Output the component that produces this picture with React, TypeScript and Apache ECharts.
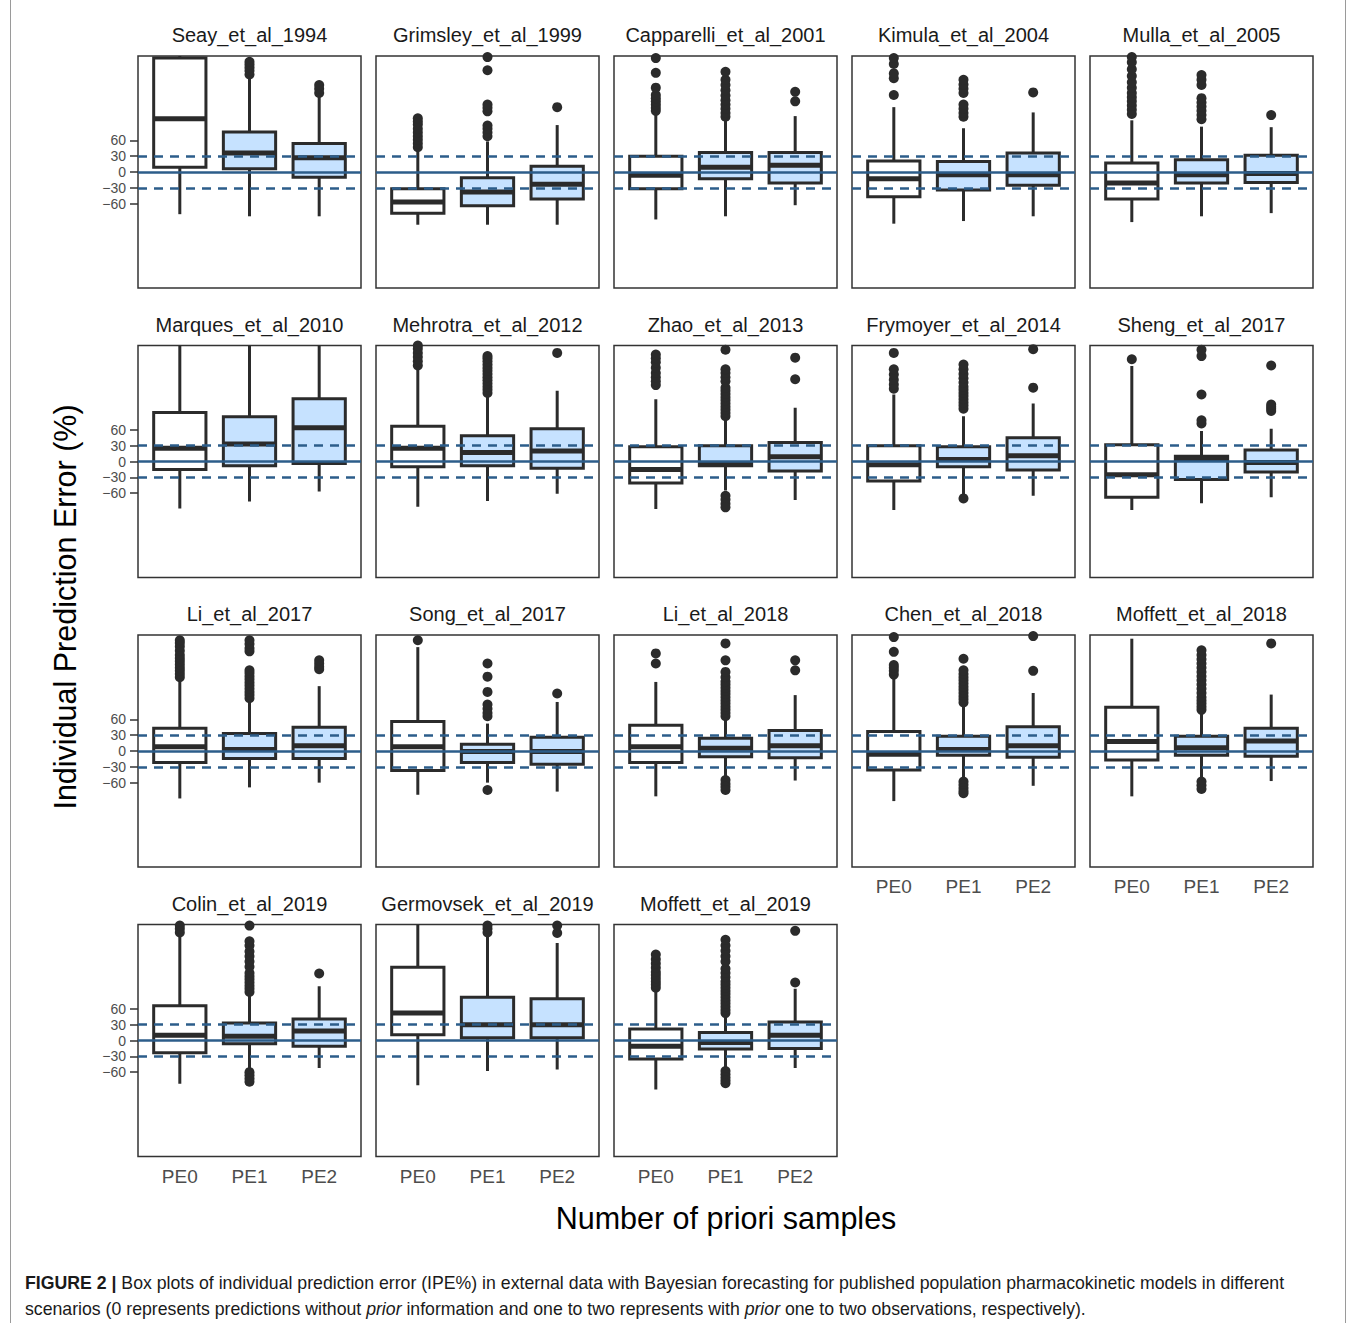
import { useEffect, useRef } from 'react';
import * as echarts from 'echarts';

const FONT = '"Liberation Sans", Arial, Helvetica, sans-serif';

const CATEGORIES = ['PE0', 'PE1', 'PE2'];
const CATEGORY_POS = [1, 2, 3];
// y tick labels are split over two stacked axes so none of them is auto-hidden
const Y_TICKS_A = [-60, 0, 60];
const Y_TICKS_B = [-30, 30];
const Y_MIN = -220;
const Y_MAX = 220;
const DASHED_LINES = [-30, 30];
const SOLID_LINES = [0];
const BOX_FILLS = ['#ffffff', '#c6e2ff', '#c6e2ff'];

const PANEL_NAMES = [
  'Seay_et_al_1994', 'Grimsley_et_al_1999', 'Capparelli_et_al_2001', 'Kimula_et_al_2004', 'Mulla_et_al_2005',
  'Marques_et_al_2010', 'Mehrotra_et_al_2012', 'Zhao_et_al_2013', 'Frymoyer_et_al_2014', 'Sheng_et_al_2017',
  'Li_et_al_2017', 'Song_et_al_2017', 'Li_et_al_2018', 'Chen_et_al_2018', 'Moffett_et_al_2018',
  'Colin_et_al_2019', 'Germovsek_et_al_2019', 'Moffett_et_al_2019',
];
// panels that carry the PE0/PE1/PE2 labels (bottom of each column)
const X_LABEL_PANELS = [13, 14, 15, 16, 17];

// box stats per scenario: [lower whisker, Q1, median, Q3, upper whisker]
const SEAY_1994_BOX = [[-80, 9, 101, 216, 240], [-84, 6, 36, 76, 181], [-84, -10, 27, 54, 146]];
const SEAY_1994_OUT = [[], [185, 192, 198, 204, 209], [150, 158, 165]];

const GRIMSLEY_1999_BOX = [[-100, -78, -57, -32, 39], [-100, -64, -38, -11, 58], [-100, -51, -23, 11, 89]];
const GRIMSLEY_1999_OUT = [[47, 54, 61, 68, 75, 82, 90, 96, 102], [68, 75, 82, 88, 115, 122, 128, 193, 218], [123]];

const CAPPARELLI_2001_BOX = [[-90, -32, -6, 30, 110], [-84, -13, 9, 37, 99], [-63, -21, 13, 37, 106]];
const CAPPARELLI_2001_OUT = [[116, 122, 128, 134, 140, 146, 160, 188, 216], [105, 112, 120, 128, 136, 145, 155, 165, 175, 190], [134, 152]];

const KIMULA_2004_BOX = [[-98, -47, -13, 21, 123], [-93, -34, -5, 20, 83], [-84, -25, -5, 36, 113]];
const KIMULA_2004_OUT = [[146, 178, 187, 205, 216], [105, 112, 120, 128, 150, 158, 166, 175], [151]];

const MULLA_2005_BOX = [[-95, -51, -21, 17, 98], [-84, -21, -5, 23, 86], [-78, -20, -3, 32, 85]];
const MULLA_2005_OUT = [[110, 118, 126, 134, 142, 150, 160, 170, 182, 195, 208, 218], [100, 108, 116, 124, 132, 140, 165, 175, 184], [108]];

const MARQUES_2010_BOX = [[-89, -15, 25, 93, 240], [-76, -8, 33, 85, 240], [-57, -4, 64, 119, 240]];
const MARQUES_2010_OUT = [[], [], []];

const MEHROTRA_2012_BOX = [[-86, -10, 25, 67, 178], [-75, -8, 17, 49, 124], [-61, -13, 20, 62, 134]];
const MEHROTRA_2012_OUT = [[182, 190, 198, 206, 214, 220], [130, 136, 142, 148, 154, 160, 166, 172, 178, 184, 190, 196, 200], [206]];

const ZHAO_2013_BOX = [[-90, -41, -15, 28, 118], [-55, -8, -4, 30, 80], [-73, -18, 9, 36, 102]];
const ZHAO_2013_OUT = [[145, 152, 160, 168, 178, 188, 196, 203], [-65, -72, -80, -87, 86, 92, 98, 104, 110, 116, 122, 128, 134, 140, 152, 160, 168, 175, 212], [156, 197]];

const FRYMOYER_2014_BOX = [[-92, -37, -6, 30, 127], [-62, -10, 4, 28, 86], [-65, -16, 11, 45, 110]];
const FRYMOYER_2014_OUT = [[138, 146, 155, 165, 175, 206], [-70, 100, 106, 112, 118, 124, 130, 136, 142, 150, 158, 166, 175, 184], [140, 213]];

const SHENG_2017_BOX = [[-92, -68, -25, 32, 181], [-79, -34, 5, 10, 58], [-68, -20, -2, 22, 62]];
const SHENG_2017_OUT = [[194], [72, 78, 127, 200, 212], [96, 100, 104, 108, 182]];

const LI_2017_BOX = [[-90, -22, 8, 43, 134], [-69, -14, 3, 33, 96], [-60, -14, 10, 45, 123]];
const LI_2017_OUT = [[140, 146, 152, 158, 164, 170, 176, 182, 190, 198, 205, 210], [100, 106, 112, 118, 124, 130, 136, 142, 148, 153, 189, 195, 203, 210], [155, 160, 166, 172]];

const SONG_2017_BOX = [[-83, -37, 8, 56, 197], [-60, -22, -1, 13, 52], [-77, -25, -1, 26, 93]];
const SONG_2017_OUT = [[210], [-74, 66, 72, 80, 88, 112, 141, 166], [109]];

const LI_2018_BOX = [[-86, -22, 8, 49, 131], [-49, -11, 5, 24, 62], [-56, -13, 10, 39, 106]];
const LI_2018_OUT = [[166, 185], [-55, -62, -68, -74, 66, 72, 78, 84, 90, 96, 102, 108, 114, 120, 126, 132, 140, 150, 172, 204], [153, 172]];

const CHEN_2018_BOX = [[-95, -36, -6, 37, 138], [-55, -8, 3, 28, 84], [-66, -12, 10, 46, 110]];
const CHEN_2018_OUT = [[145, 152, 158, 163, 188, 216], [-58, -64, -70, -76, -80, 92, 98, 104, 110, 116, 122, 128, 134, 140, 146, 153, 175], [152, 218]];

const MOFFETT_2018_BOX = [[-86, -17, 18, 83, 213], [-52, -8, 6, 28, 71], [-57, -10, 19, 43, 107]];
const MOFFETT_2018_OUT = [[], [-58, -65, -72, 78, 84, 90, 96, 102, 110, 118, 126, 134, 142, 150, 158, 166, 174, 182, 191], [204]];

const COLIN_2019_BOX = [[-82, -23, 10, 66, 197], [-55, -6, 8, 33, 87], [-52, -11, 18, 41, 103]];
const COLIN_2019_OUT = [[205, 212, 218], [-60, -66, -72, -78, 92, 98, 104, 110, 116, 122, 128, 140, 150, 160, 169, 180, 188, 218], [127]];

const GERMOVSEK_2019_BOX = [[-85, 11, 52, 139, 240], [-58, 5, 30, 82, 197], [-55, 5, 30, 79, 185]];
const GERMOVSEK_2019_OUT = [[], [205, 212, 218], [204, 218]];

const MOFFETT_2019_BOX = [[-93, -35, -11, 22, 97], [-55, -16, -4, 15, 46], [-52, -15, 10, 35, 98]];
const MOFFETT_2019_OUT = [[100, 106, 112, 118, 124, 130, 138, 146, 154, 163], [-58, -64, -70, -76, -81, 52, 58, 64, 70, 76, 82, 88, 94, 100, 106, 112, 120, 128, 136, 150, 160, 170, 180, 191], [110, 208]];

const PANEL_BOXES = [
  SEAY_1994_BOX, GRIMSLEY_1999_BOX, CAPPARELLI_2001_BOX, KIMULA_2004_BOX, MULLA_2005_BOX,
  MARQUES_2010_BOX, MEHROTRA_2012_BOX, ZHAO_2013_BOX, FRYMOYER_2014_BOX, SHENG_2017_BOX,
  LI_2017_BOX, SONG_2017_BOX, LI_2018_BOX, CHEN_2018_BOX, MOFFETT_2018_BOX,
  COLIN_2019_BOX, GERMOVSEK_2019_BOX, MOFFETT_2019_BOX,
];
const PANEL_OUTLIERS = [
  SEAY_1994_OUT, GRIMSLEY_1999_OUT, CAPPARELLI_2001_OUT, KIMULA_2004_OUT, MULLA_2005_OUT,
  MARQUES_2010_OUT, MEHROTRA_2012_OUT, ZHAO_2013_OUT, FRYMOYER_2014_OUT, SHENG_2017_OUT,
  LI_2017_OUT, SONG_2017_OUT, LI_2018_OUT, CHEN_2018_OUT, MOFFETT_2018_OUT,
  COLIN_2019_OUT, GERMOVSEK_2019_OUT, MOFFETT_2019_OUT,
];

const Y_TITLE = 'Individual Prediction Error (%)';
const X_TITLE = 'Number of priori samples';
const CAPTION_1 = '{b|FIGURE 2 |} Box plots of individual prediction error (IPE%) in external data with Bayesian forecasting for published population pharmacokinetic models in different';
const CAPTION_2 = 'scenarios (0 represents predictions without {i|prior} information and one to two represents with {i|prior} one to two observations, respectively).';

const INK = '#2b2b2b';
const REF_COLOR = '#2c5d8a';
const CAPTION_SIZE = 17.7;

function renderBox(params: any, api: any) {
  const cs = params.coordSys;
  const clampY = (py: number) => Math.max(cs.y, Math.min(cs.y + cs.height, py));
  const x = api.value(0);
  const p = (v: number) => api.coord([x, v]);
  const cx = p(api.value(3))[0];
  const yLow = clampY(p(api.value(1))[1]);
  const yQ1 = clampY(p(api.value(2))[1]);
  const yMed = clampY(p(api.value(3))[1]);
  const yQ3 = clampY(p(api.value(4))[1]);
  const yHigh = clampY(p(api.value(5))[1]);
  const half = api.size([0.75, 0])[0] / 2;
  const fill = BOX_FILLS[params.dataIndex] || '#fff';
  return {
    type: 'group',
    children: [
      { type: 'line', shape: { x1: cx, y1: yQ3, x2: cx, y2: yHigh }, style: { stroke: INK, lineWidth: 3 } },
      { type: 'line', shape: { x1: cx, y1: yQ1, x2: cx, y2: yLow }, style: { stroke: INK, lineWidth: 3 } },
      { type: 'rect', shape: { x: cx - half, y: yQ3, width: half * 2, height: yQ1 - yQ3 }, style: { fill, stroke: INK, lineWidth: 3 } },
      { type: 'line', shape: { x1: cx - half, y1: yMed, x2: cx + half, y2: yMed }, style: { stroke: INK, lineWidth: 5 } },
    ],
  };
}

function yAxisDef(gridIndex: number, show: boolean, ticks: number[]) {
  return {
    gridIndex, type: 'value', min: Y_MIN, max: Y_MAX, position: 'left',
    splitLine: { show: false }, axisLine: { show: false },
    axisTick: { show, customValues: ticks, length: 8, lineStyle: { color: '#333', width: 1.5 } },
    axisLabel: {
      show, customValues: ticks, margin: 12, fontSize: 14, lineHeight: 14, color: '#4d4d4d', fontFamily: FONT,
      hideOverlap: false, showMinLabel: true, showMaxLabel: true,
      formatter: (v: number) => String(v).replace('-', '\u2212'),
    },
  };
}

function buildOption() {
  const grids: any[] = [];
  const xAxes: any[] = [];
  const yAxes: any[] = [];
  const extraYAxes: any[] = [];
  const series: any[] = [];
  const graphics: any[] = [];

  PANEL_NAMES.forEach((name, i) => {
    const r = Math.floor(i / 5);
    const c = i % 5;
    const left = 138 + c * 238;
    const top = 56 + r * 289.5;
    const width = 223;
    const height = 232;
    grids.push({ left, top, width, height, show: true, borderColor: '#333', borderWidth: 1.5, backgroundColor: '#fff' });
    const showX = X_LABEL_PANELS.includes(i);
    const showY = c === 0;
    xAxes.push({
      gridIndex: i, type: 'value', min: 0.4, max: 3.6,
      splitLine: { show: false }, axisLine: { show: false },
      axisTick: { show: showX, customValues: CATEGORY_POS, length: 8, lineStyle: { color: '#333', width: 1.5 } },
      axisLabel: {
        show: showX, customValues: CATEGORY_POS, margin: 10, fontSize: 19, color: '#4d4d4d', fontFamily: FONT,
        hideOverlap: false,
        formatter: (v: number) => CATEGORIES[Math.round(v) - 1] || '',
      },
    });
    yAxes.push(yAxisDef(i, showY, Y_TICKS_A));
    if (showY) extraYAxes.push(yAxisDef(i, true, Y_TICKS_B));
    series.push({
      type: 'custom', xAxisIndex: i, yAxisIndex: i, clip: true, z: 2, silent: true,
      data: PANEL_BOXES[i].map((b, k) => [CATEGORY_POS[k], ...b]),
      encode: { x: 0, y: [1, 2, 3, 4, 5] },
      renderItem: renderBox,
    });
    series.push({
      type: 'scatter', xAxisIndex: i, yAxisIndex: i, clip: true, z: 3, silent: true,
      symbolSize: 10, itemStyle: { color: INK, opacity: 1 },
      data: PANEL_OUTLIERS[i].flatMap((arr, k) => arr.map((v) => [CATEGORY_POS[k], v])),
      markLine: {
        silent: true, symbol: ['none', 'none'], label: { show: false }, animation: false, z: 6,
        data: [
          ...SOLID_LINES.map((v) => ({ yAxis: v, lineStyle: { color: REF_COLOR, width: 2.5, type: 'solid' } })),
          ...DASHED_LINES.map((v) => ({ yAxis: v, lineStyle: { color: REF_COLOR, width: 2.5, type: [9, 7] } })),
        ],
      },
    });
    graphics.push({
      type: 'text', x: left + width / 2, y: top - 21, silent: true,
      style: { text: name, fontSize: 20, fontFamily: FONT, fill: '#1a1a1a', textAlign: 'center', textVerticalAlign: 'middle' },
    });
  });

  graphics.push({
    type: 'text', x: 65, y: 607, rotation: Math.PI / 2, silent: true,
    style: { text: Y_TITLE, fontSize: 30.5, fontFamily: FONT, fill: '#000', textAlign: 'center', textVerticalAlign: 'middle' },
  });
  graphics.push({
    type: 'text', x: 726, y: 1218, silent: true,
    style: { text: X_TITLE, fontSize: 30.5, fontFamily: FONT, fill: '#000', textAlign: 'center', textVerticalAlign: 'middle' },
  });
  const rich = {
    b: { fontWeight: 'bold', fontSize: CAPTION_SIZE, fontFamily: FONT, fill: '#1a1a1a' },
    i: { fontStyle: 'italic', fontSize: CAPTION_SIZE, fontFamily: FONT, fill: '#1a1a1a' },
  };
  graphics.push({
    type: 'text', x: 25, y: 1283, silent: true,
    style: { text: CAPTION_1, rich, fontSize: CAPTION_SIZE, fontFamily: FONT, fill: '#1a1a1a', textAlign: 'left', textVerticalAlign: 'middle' },
  });
  graphics.push({
    type: 'text', x: 25, y: 1309, silent: true,
    style: { text: CAPTION_2, rich, fontSize: CAPTION_SIZE, fontFamily: FONT, fill: '#1a1a1a', textAlign: 'left', textVerticalAlign: 'middle' },
  });
  graphics.push({ type: 'line', silent: true, shape: { x1: 10.5, y1: 0, x2: 10.5, y2: 1323 }, style: { stroke: '#9a9a9a', lineWidth: 1 } });
  graphics.push({ type: 'line', silent: true, shape: { x1: 1345.5, y1: 0, x2: 1345.5, y2: 1323 }, style: { stroke: '#9a9a9a', lineWidth: 1 } });

  return {
    animation: false,
    backgroundColor: '#fff',
    grid: grids,
    xAxis: xAxes,
    yAxis: [...yAxes, ...extraYAxes],
    series,
    graphic: graphics,
  };
}

export default function App() {
  const ref = useRef<HTMLDivElement>(null);
  useEffect(() => {
    document.body.style.margin = '0';
    if (!ref.current) return;
    const chart = echarts.init(ref.current, undefined, { renderer: 'svg' });
    chart.setOption(buildOption() as any);
    return () => chart.dispose();
  }, []);
  return <div ref={ref} style={{ width: 1355, height: 1323 }} />;
}
